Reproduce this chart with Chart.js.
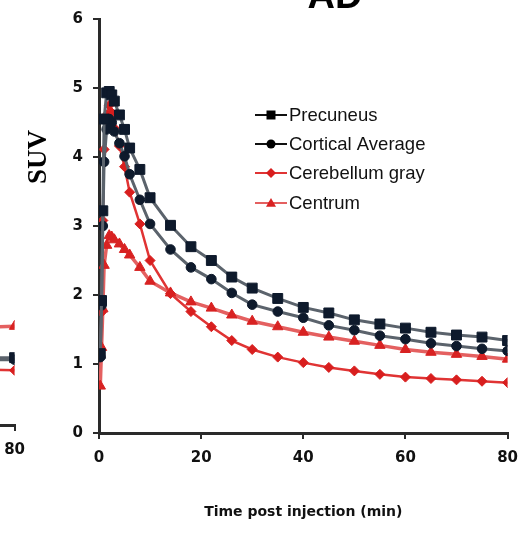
<!DOCTYPE html>
<html>
<head>
<meta charset="utf-8">
<script src="https://cdn.jsdelivr.net/npm/chart.js"></script>
<style>
  html, body { margin: 0; padding: 0; background: #fff; overflow: hidden; }
  #wrap { position: relative; width: 528px; height: 534px; }
  #left { position: absolute; }
  #main { position: absolute; left: 0; top: 0; }
</style>
</head>
<body>
<div id="wrap">
  <canvas id="left" width="480" height="520"></canvas>
  <canvas id="main" width="528" height="534"></canvas>
</div>
<script>
// time post injection (min)
var times = [0.25, 0.5, 0.75, 1, 1.5, 2, 2.5, 3, 4, 5, 6, 8, 10, 14, 18, 22, 26, 30, 35, 40, 45, 50, 55, 60, 65, 70, 75, 80];

// SUV per region (AD panel)
var precuneus       = [1.15, 1.92, 3.22, 4.55, 4.93, 4.95, 4.90, 4.81, 4.61, 4.40, 4.13, 3.82, 3.41, 3.01, 2.70, 2.50, 2.26, 2.10, 1.95, 1.82, 1.74, 1.64, 1.58, 1.52, 1.46, 1.42, 1.39, 1.34];
var corticalAverage = [1.10, 1.85, 3.00, 3.93, 4.40, 4.55, 4.50, 4.37, 4.20, 4.01, 3.75, 3.38, 3.03, 2.66, 2.40, 2.23, 2.03, 1.86, 1.76, 1.67, 1.56, 1.49, 1.41, 1.36, 1.30, 1.26, 1.22, 1.19];
var cerebellumGray  = [1.10, 1.75, 3.08, 4.11, 4.61, 4.75, 4.64, 4.42, 4.16, 3.86, 3.49, 3.03, 2.50, 2.02, 1.76, 1.54, 1.34, 1.21, 1.10, 1.02, 0.95, 0.90, 0.85, 0.81, 0.79, 0.77, 0.75, 0.73];
var centrum         = [0.68, 1.24, 1.80, 2.43, 2.72, 2.86, 2.84, 2.80, 2.74, 2.66, 2.58, 2.40, 2.20, 2.03, 1.90, 1.81, 1.71, 1.62, 1.54, 1.46, 1.39, 1.33, 1.27, 1.21, 1.17, 1.14, 1.11, 1.07];

var labels = ['Precuneus', 'Cortical Average', 'Cerebellum gray', 'Centrum'];

// tail of the neighbouring panel (cut off at the left edge)
var leftTimes = [75, 80];
var leftPrecuneus  = [1.01, 1.01];
var leftCortical   = [0.98, 0.98];
var leftCerebellum = [0.83, 0.82];
var leftCentrum    = [1.47, 1.48];

var tickFont = { family: "'DejaVu Sans', sans-serif", size: 15, weight: 'bold' };

function pts(xs, ys) {
  return xs.map(function (t, i) { return { x: t, y: ys[i] }; });
}

var styles = [
  { line: '#5b636c', fill: '#0e1a2c', style: 'rect', radius: 7, width: 3 },
  { line: '#5b636c', fill: '#0e1a2c', style: 'circle', radius: 4.8, width: 3 },
  { line: '#e03434', fill: '#d81e1e', style: 'rectRot', radius: 5, width: 2.5 },
  { line: '#e46060', fill: '#d82222', style: 'triangle', radius: 6, width: 3.5 }
];

function makeSet(label, data, s) {
  return {
    label: label,
    data: data,
    borderColor: s.line,
    borderWidth: s.width,
    backgroundColor: s.fill,
    pointBackgroundColor: s.fill,
    pointBorderColor: s.fill,
    pointBorderWidth: 1,
    pointStyle: s.style,
    pointRadius: s.radius,
    tension: 0
  };
}

function axisX(showTitle) {
  return {
    type: 'linear', min: 0, max: 80,
    ticks: { stepSize: 20, color: '#111', font: tickFont, padding: 10 },
    grid: { drawOnChartArea: false, drawTicks: true, tickLength: 6, color: '#2a2a2a', lineWidth: 2 },
    border: { color: '#2a2a2a', width: 3 },
    title: {
      display: showTitle,
      text: 'Time post injection (min)',
      color: '#111',
      font: { family: "'DejaVu Sans', sans-serif", size: 14, weight: 'bold' },
      padding: { top: 0, bottom: 13 }
    },
    afterFit: function (s) { s.height = 101; }
  };
}

function axisY() {
  return {
    min: 0, max: 6,
    ticks: { stepSize: 1, color: '#111', font: tickFont, padding: 10 },
    grid: { drawOnChartArea: false, drawTicks: true, tickLength: 6, color: '#2a2a2a', lineWidth: 2 },
    border: { color: '#2a2a2a', width: 3 },
    afterFit: function (s) { s.width = 99; }
  };
}

function drawMarker(ctx, style, x, y, r) {
  ctx.beginPath();
  if (style === 'rect') {
    ctx.rect(x - r, y - r, 2 * r, 2 * r);
  } else if (style === 'circle') {
    ctx.arc(x, y, r, 0, Math.PI * 2);
  } else if (style === 'rectRot') {
    ctx.moveTo(x, y - r); ctx.lineTo(x + r, y); ctx.lineTo(x, y + r); ctx.lineTo(x - r, y);
    ctx.closePath();
  } else {
    ctx.moveTo(x, y - r); ctx.lineTo(x + r, y + r * 0.75); ctx.lineTo(x - r, y + r * 0.75);
    ctx.closePath();
  }
  ctx.fill();
}

var decor = {
  id: 'decor',
  afterDraw: function (chart) {
    var ctx = chart.ctx;
    ctx.save();
    // panel title, cut by the top edge
    ctx.fillStyle = '#000';
    ctx.font = "bold 38px 'Liberation Sans', Arial, sans-serif";
    ctx.textAlign = 'center';
    ctx.textBaseline = 'alphabetic';
    ctx.fillText('AD', 335, 8);

    // rotated y title
    ctx.save();
    ctx.translate(39, 157);
    ctx.rotate(-Math.PI / 2);
    ctx.font = "bold 27px 'Liberation Serif', 'DejaVu Serif', serif";
    ctx.textBaseline = 'middle';
    ctx.fillText('SUV', 0, 0);
    ctx.restore();

    // legend
    var ys = [115, 144, 173, 203];
    chart.data.datasets.forEach(function (ds, i) {
      var s = styles[i];
      var y = ys[i];
      ctx.strokeStyle = i < 2 ? '#111' : s.line;
      ctx.lineWidth = 2;
      ctx.beginPath();
      ctx.moveTo(255, y);
      ctx.lineTo(287, y);
      ctx.stroke();
      ctx.fillStyle = i < 2 ? '#000' : s.fill;
      var r = s.style === 'rect' ? 4.5 : (s.style === 'circle' ? 4.5 : 5);
      drawMarker(ctx, s.style, 271, y, r);
      ctx.fillStyle = '#111';
      ctx.font = "18.5px 'Liberation Sans', Arial, sans-serif";
      ctx.textAlign = 'left';
      ctx.textBaseline = 'middle';
      ctx.fillText(ds.label, 289, y + 1);
    });
    ctx.restore();
  }
};

var mainChart = new Chart(document.getElementById('main').getContext('2d'), {
  type: 'line',
  data: {
    datasets: [
      makeSet(labels[0], pts(times, precuneus), styles[0]),
      makeSet(labels[1], pts(times, corticalAverage), styles[1]),
      makeSet(labels[2], pts(times, cerebellumGray), styles[2]),
      makeSet(labels[3], pts(times, centrum), styles[3])
    ]
  },
  options: {
    responsive: false,
    animation: false,
    layout: { padding: { left: 0, top: 18, right: 20, bottom: 0 } },
    plugins: { legend: { display: false }, tooltip: { enabled: false } },
    scales: { x: axisX(true), y: axisY() }
  },
  plugins: [decor]
});

// neighbouring panel, only its right end is visible
var leftCanvas = document.getElementById('left');
var leftChart = new Chart(leftCanvas.getContext('2d'), {
  type: 'line',
  data: {
    datasets: [
      makeSet(labels[0], pts(leftTimes, leftPrecuneus), styles[0]),
      makeSet(labels[1], pts(leftTimes, leftCortical), styles[1]),
      makeSet(labels[2], pts(leftTimes, leftCerebellum), styles[2]),
      makeSet(labels[3], pts(leftTimes, leftCentrum), styles[3])
    ]
  },
  options: {
    responsive: false,
    animation: false,
    layout: { padding: { left: 0, top: 11, right: 20, bottom: 0 } },
    plugins: { legend: { display: false }, tooltip: { enabled: false } },
    scales: { x: axisX(false), y: axisY() }
  }
});
var ca = leftChart.chartArea;
leftCanvas.style.left = (15 - ca.right) + 'px';
leftCanvas.style.top = (425 - ca.bottom) + 'px';
</script>
</body>
</html>
